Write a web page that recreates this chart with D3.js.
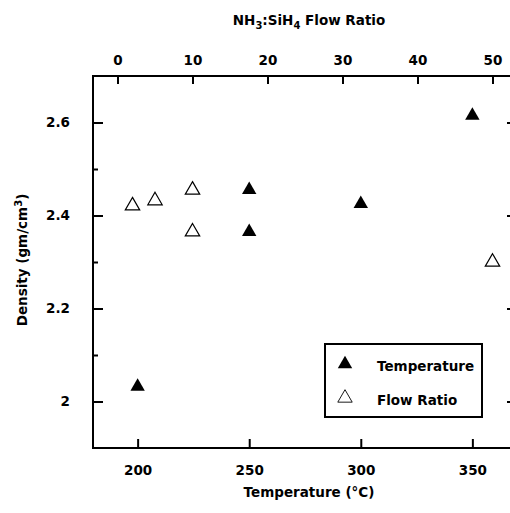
<!DOCTYPE html>
<html>
<head>
<meta charset="utf-8">
<script src="https://cdn.jsdelivr.net/npm/d3@7/dist/d3.min.js"></script>
<style>
  html, body { margin: 0; padding: 0; background: #fff; }
  svg { display: block; }
  text { font-family: "DejaVu Sans", sans-serif; font-weight: bold; fill: #000; }
</style>
</head>
<body>
<script>
// Film density vs. deposition temperature and NH3:SiH4 flow ratio
const temperatureC = [200, 250, 250, 300, 350];
const temperatureDensity = [2.032, 2.455, 2.365, 2.425, 2.615];

const flowRatio = [2, 5, 10, 10, 50];
const flowRatioDensity = [2.421, 2.432, 2.455, 2.365, 2.30];

const tempTicks = [200, 250, 300, 350];
const ratioTicks = [0, 10, 20, 30, 40, 50];
const densityMajorTicks = [2.0, 2.2, 2.4, 2.6];
const densityMinorTicks = [2.1, 2.3, 2.5];
const densityTickLabels = ["2", "2.2", "2.4", "2.6"];

const legendLabels = ["Temperature", "Flow Ratio"];

const W = 510, H = 513;
const frame = { left: 93, right: 517, top: 76, bottom: 448 };

const svg = d3.select("body").append("svg")
  .attr("width", W).attr("height", H);

const x = d3.scaleLinear().domain([180, 370]).range([frame.left, frame.right]);
const xTop = d3.scaleLinear().domain([0, 50]).range([117.5, 492.5]);
const y = d3.scaleLinear().domain([1.9, 2.7]).range([frame.bottom, frame.top]);

const fontSize = 13.5;

// Bottom axis (temperature), ticks pointing into the plot
const gBottom = svg.append("g").attr("transform", `translate(0,${frame.bottom})`)
  .call(d3.axisBottom(x).tickValues(tempTicks).tickSizeInner(-9).tickSizeOuter(0).tickPadding(17).tickFormat(d3.format("d")));

// Top axis (flow ratio)
const gTop = svg.append("g").attr("transform", `translate(0,${frame.top})`)
  .call(d3.axisTop(xTop).tickValues(ratioTicks).tickSizeInner(-8).tickSizeOuter(0).tickPadding(11).tickFormat(d3.format("d")));

// Left axis (density), major and minor ticks
const gLeft = svg.append("g").attr("transform", `translate(${frame.left},0)`)
  .call(d3.axisLeft(y).tickValues(densityMajorTicks).tickSizeInner(-10).tickSizeOuter(0).tickPadding(23)
    .tickFormat((d, i) => densityTickLabels[i]));
const gLeftMinor = svg.append("g").attr("transform", `translate(${frame.left},0)`)
  .call(d3.axisLeft(y).tickValues(densityMinorTicks).tickSizeInner(-5).tickSizeOuter(0).tickFormat(""));

// Right axis (density), ticks only
const gRight = svg.append("g").attr("transform", `translate(${frame.right},0)`)
  .call(d3.axisRight(y).tickValues(densityMajorTicks).tickSizeInner(-10).tickSizeOuter(0).tickFormat(""));
const gRightMinor = svg.append("g").attr("transform", `translate(${frame.right},0)`)
  .call(d3.axisRight(y).tickValues(densityMinorTicks).tickSizeInner(-5).tickSizeOuter(0).tickFormat(""));

[gBottom, gTop, gLeft, gLeftMinor, gRight, gRightMinor].forEach(g => {
  g.select(".domain").remove();
  g.selectAll(".tick line").attr("stroke", "#000").attr("stroke-width", 2);
  g.selectAll(".tick text")
    .style("font-family", '"DejaVu Sans", sans-serif')
    .style("font-weight", "bold")
    .style("font-size", fontSize + "px")
    .attr("fill", "#000");
});

// Plot frame
svg.append("rect")
  .attr("x", frame.left).attr("y", frame.top)
  .attr("width", frame.right - frame.left).attr("height", frame.bottom - frame.top)
  .attr("fill", "none").attr("stroke", "#000").attr("stroke-width", 2);

// Axis titles
const topTitle = svg.append("text")
  .attr("x", 309).attr("y", 25).attr("text-anchor", "middle")
  .style("font-size", fontSize + "px");
topTitle.append("tspan").text("NH");
topTitle.append("tspan").attr("dy", 4).style("font-size", "10px").text("3");
topTitle.append("tspan").attr("dy", -4).text(":SiH");
topTitle.append("tspan").attr("dy", 4).style("font-size", "10px").text("4");
topTitle.append("tspan").attr("dy", -4).text(" Flow Ratio");

svg.append("text")
  .attr("x", 309).attr("y", 497).attr("text-anchor", "middle")
  .style("font-size", fontSize + "px")
  .text("Temperature (°C)");

const yTitle = svg.append("text")
  .attr("transform", "translate(27,260) rotate(-90)")
  .attr("text-anchor", "middle")
  .style("font-size", fontSize + "px");
yTitle.append("tspan").text("Density (gm/cm");
yTitle.append("tspan").attr("dy", -5).style("font-size", "10px").text("3");
yTitle.append("tspan").attr("dy", 5).text(")");

// Markers
const tri = d3.symbol().type(d3.symbolTriangle).size(90);

svg.append("g").selectAll("path")
  .data(temperatureC.map((t, i) => [t, temperatureDensity[i]]))
  .join("path")
  .attr("d", tri)
  .attr("transform", d => `translate(${x(d[0])},${y(d[1])})`)
  .attr("fill", "#000");

svg.append("g").selectAll("path")
  .data(flowRatio.map((r, i) => [r, flowRatioDensity[i]]))
  .join("path")
  .attr("d", tri)
  .attr("transform", d => `translate(${xTop(d[0])},${y(d[1])})`)
  .attr("fill", "#fff").attr("stroke", "#000").attr("stroke-width", 1.2);

// Legend
const legend = svg.append("g");
legend.append("rect")
  .attr("x", 325).attr("y", 344).attr("width", 157).attr("height", 73)
  .attr("fill", "#fff").attr("stroke", "#000").attr("stroke-width", 2);

const legendRows = [
  { label: legendLabels[0], fill: "#000", stroke: "none", cy: 364 },
  { label: legendLabels[1], fill: "#fff", stroke: "#000", cy: 398 }
];
legendRows.forEach(r => {
  legend.append("path")
    .attr("d", tri)
    .attr("transform", `translate(345,${r.cy})`)
    .attr("fill", r.fill).attr("stroke", r.stroke).attr("stroke-width", 0.9);
  legend.append("text")
    .attr("x", 377).attr("y", r.cy + 7)
    .style("font-size", fontSize + "px")
    .text(r.label);
});
</script>
</body>
</html>
